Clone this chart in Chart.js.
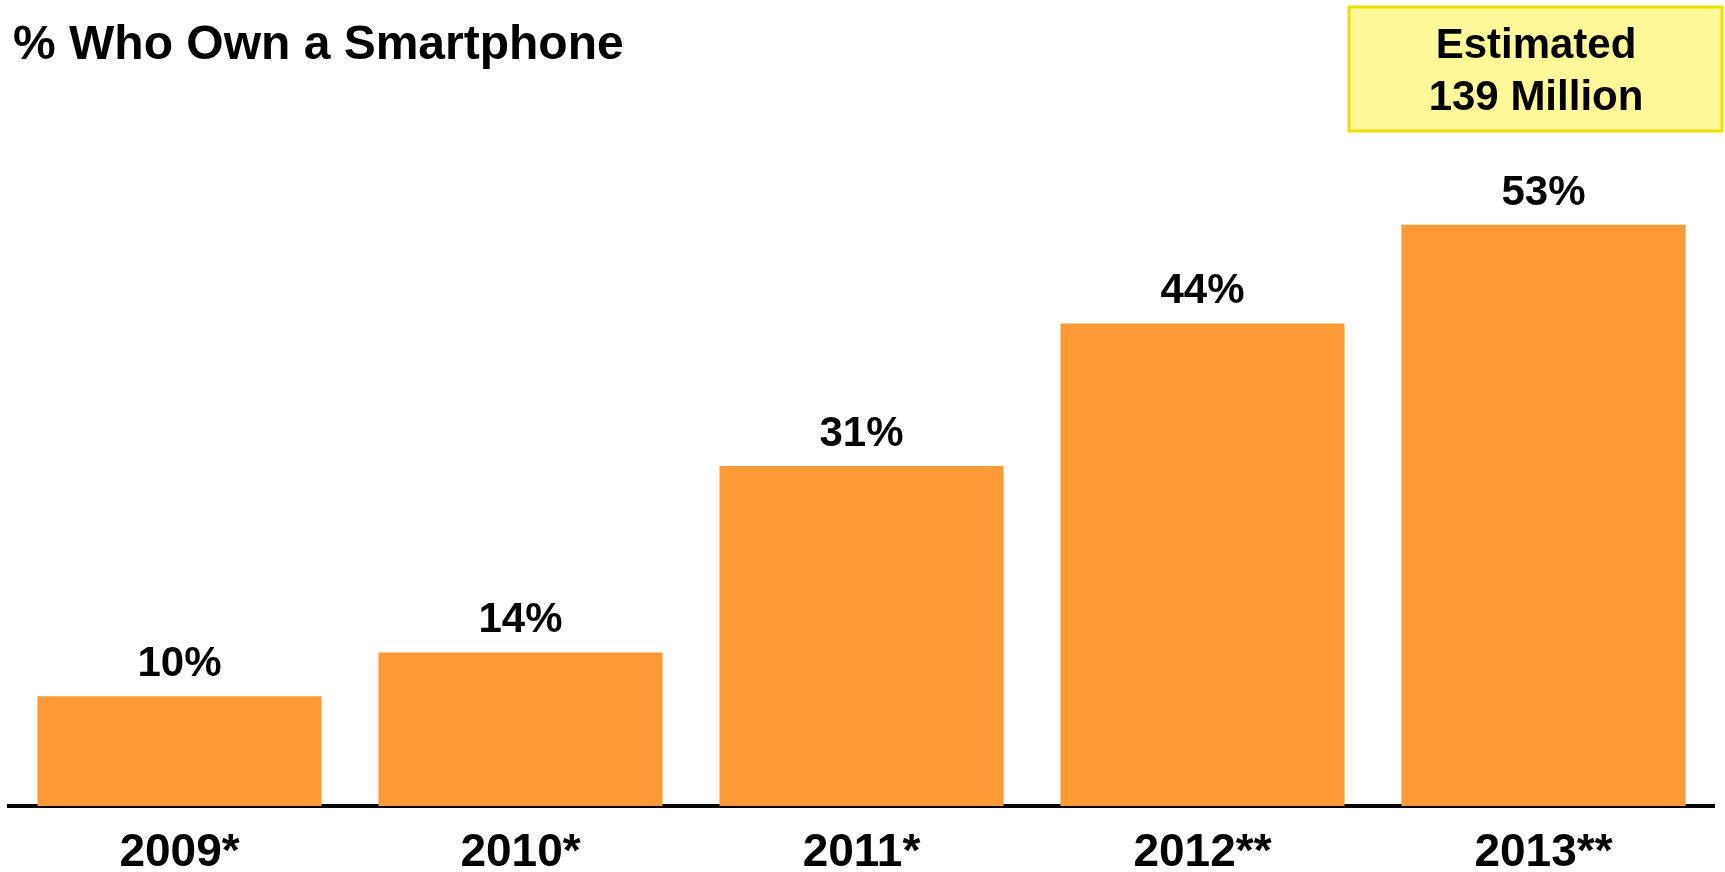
<!DOCTYPE html>
<html>
<head>
<meta charset="utf-8">
<script src="https://cdn.jsdelivr.net/npm/chart.js@4/dist/chart.umd.min.js"></script>
<style>
html,body{margin:0;padding:0;background:#fff;}
#wrap{width:1725px;height:872px;position:relative;}
</style>
</head>
<body>
<div id="wrap"><canvas id="c" width="1725" height="872"></canvas></div>
<script>
const categories = ['2009*', '2010*', '2011*', '2012**', '2013**'];
const shareValues = [10, 14, 31, 44, 53];
const valueLabels = ['10%', '14%', '31%', '44%', '53%'];
const titleText = '% Who Own a Smartphone';
const calloutLines = ['Estimated', '139 Million'];

const FONT = '"Liberation Sans", Arial, Helvetica, sans-serif';

const decor = {
  id: 'decor',
  afterDatasetsDraw(chart) {
    const ctx = chart.ctx;
    const meta = chart.getDatasetMeta(0);
    ctx.save();
    ctx.fillStyle = '#000';
    ctx.font = 'bold 42px ' + FONT;
    ctx.textAlign = 'center';
    ctx.textBaseline = 'alphabetic';
    meta.data.forEach((bar, i) => {
      ctx.fillText(valueLabels[i], bar.x, bar.y - 20);
    });
    // title
    ctx.textAlign = 'left';
    ctx.font = 'bold 48px ' + FONT;
    ctx.fillText(titleText, 13, 59);
    // callout box
    ctx.fillStyle = '#FFF899';
    ctx.fillRect(1349, 7, 373, 124);
    ctx.strokeStyle = '#EEE000';
    ctx.lineWidth = 3;
    ctx.strokeRect(1349, 7, 373, 124);
    ctx.fillStyle = '#000';
    ctx.textAlign = 'center';
    ctx.font = 'bold 42px ' + FONT;
    ctx.fillText(calloutLines[0], 1536, 58);
    ctx.fillText(calloutLines[1], 1536, 110);
    ctx.restore();
  }
};

new Chart(document.getElementById('c'), {
  type: 'bar',
  data: {
    labels: categories,
    datasets: [{
      data: shareValues,
      backgroundColor: '#FF9A36',
      borderWidth: 0,
      barPercentage: 0.833,
      categoryPercentage: 1.0
    }]
  },
  options: {
    responsive: false,
    animation: false,
    devicePixelRatio: 1,
    layout: { padding: { left: 9, right: 11, top: 80, bottom: 0 } },
    plugins: { legend: { display: false }, tooltip: { enabled: false }, title: { display: false } },
    scales: {
      x: {
        z: 1,
        grid: { display: false, drawTicks: false },
        border: { display: true, color: '#000', width: 4 },
        ticks: { color: '#000', font: { family: FONT, size: 46, weight: 'bold' }, padding: 20 },
        afterFit(scale) { scale.height = 66; }
      },
      y: {
        display: false,
        min: 0,
        max: 66.2
      }
    }
  },
  plugins: [decor]
});
</script>
</body>
</html>
